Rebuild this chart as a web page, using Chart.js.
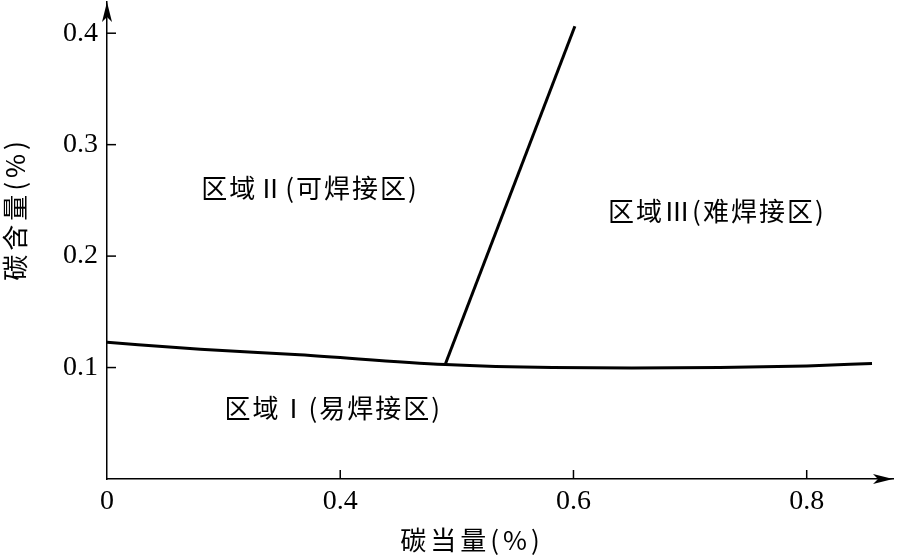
<!DOCTYPE html>
<html>
<head>
<meta charset="utf-8">
<script src="https://cdn.jsdelivr.net/npm/chart.js@4.4.1/dist/chart.umd.min.js"></script>
<style>
  html, body { margin: 0; padding: 0; background: #fff; }
  #wrap { width: 899px; height: 556px; position: relative; }
</style>
</head>
<body>
<div id="wrap"><canvas id="chart"></canvas></div>
<script>
// boundary between region I and region II/III (carbon equivalent, carbon content)
const lowerX = [0.2, 0.28, 0.365, 0.49, 0.582, 0.65, 0.7255, 0.80, 0.856];
const lowerY = [0.1226, 0.1165, 0.1115, 0.1027, 0.1000, 0.0997, 0.1000, 0.1015, 0.1036];
// boundary between region II and region III
const steepX = [0.49, 0.6012];
const steepY = [0.1027, 0.4063];

const xTicks = [0.2, 0.4, 0.6, 0.8];
const xTickLabels = ['0', '0.4', '0.6', '0.8'];
const yTicks = [0.1, 0.2, 0.3, 0.4];
const yTickLabels = ['0.1', '0.2', '0.3', '0.4'];

const regionNames = ['区域Ⅱ(可焊接区)', '区域Ⅲ(难焊接区)', '区域Ⅰ(易焊接区)'];
const regionX = [0.374, 0.723, 0.394];
const regionY = [0.2608, 0.240, 0.0639];

const xTitle = '碳当量(%)';
const yTitle = '碳含量(%)';

const cjkFont = '"Noto Sans CJK SC", "Noto Sans CJK JP", sans-serif';
const numFont = '"Liberation Serif", "DejaVu Serif", serif';

function toPoints(xs, ys) {
    return xs.map((x, i) => ({ x: x, y: ys[i] }));
}

const decorPlugin = {
    id: 'decor',
    afterDraw(chart) {
        const ctx = chart.ctx;
        const area = chart.chartArea;
        const xs = chart.scales.x;
        const ys = chart.scales.y;
        ctx.save();
        ctx.strokeStyle = '#000';
        ctx.fillStyle = '#000';
        ctx.lineWidth = 1.5;
        // inward tick marks
        xTicks.forEach(v => {
            const px = xs.getPixelForValue(v);
            if (v === xTicks[0]) return;
            ctx.beginPath();
            ctx.moveTo(px, area.bottom);
            ctx.lineTo(px, area.bottom - 9);
            ctx.stroke();
        });
        yTicks.forEach(v => {
            const py = ys.getPixelForValue(v);
            ctx.beginPath();
            ctx.moveTo(area.left, py);
            ctx.lineTo(area.left + 9, py);
            ctx.stroke();
        });
        // arrow heads
        ctx.beginPath();
        ctx.moveTo(area.left, area.top);
        ctx.lineTo(area.left - 5, area.top + 20);
        ctx.lineTo(area.left, area.top + 15);
        ctx.lineTo(area.left + 5, area.top + 20);
        ctx.closePath();
        ctx.fill();
        ctx.beginPath();
        ctx.moveTo(area.right, area.bottom);
        ctx.lineTo(area.right - 20, area.bottom - 5);
        ctx.lineTo(area.right - 15, area.bottom);
        ctx.lineTo(area.right - 20, area.bottom + 5);
        ctx.closePath();
        ctx.fill();
        // region labels
        ctx.font = '26px ' + cjkFont;
        ctx.letterSpacing = '2px';
        ctx.textAlign = 'center';
        ctx.textBaseline = 'middle';
        regionNames.forEach((name, i) => {
            ctx.fillText(name, xs.getPixelForValue(regionX[i]), ys.getPixelForValue(regionY[i]));
        });
        // axis titles
        ctx.font = '26px ' + cjkFont;
        ctx.letterSpacing = '4px';
        ctx.fillText(xTitle, 472, 540);
        ctx.translate(15, 209);
        ctx.rotate(-Math.PI / 2);
        ctx.fillText(yTitle, 0, 0);
        ctx.restore();
    }
};

const ctx = document.getElementById('chart').getContext('2d');
new Chart(ctx, {
    type: 'scatter',
    data: {
        datasets: [
            {
                data: toPoints(lowerX, lowerY),
                showLine: true,
                borderColor: '#000',
                borderWidth: 3,
                pointRadius: 0,
                cubicInterpolationMode: 'monotone',
                fill: false
            },
            {
                data: toPoints(steepX, steepY),
                showLine: true,
                borderColor: '#000',
                borderWidth: 3,
                pointRadius: 0,
                fill: false
            }
        ]
    },
    options: {
        responsive: true,
        maintainAspectRatio: false,
        animation: false,
        layout: { padding: { top: 2, right: 6, left: 0, bottom: 0 } },
        plugins: {
            legend: { display: false },
            tooltip: { enabled: false }
        },
        scales: {
            x: {
                type: 'linear',
                min: 0.2,
                max: 0.874,
                afterFit(scale) {
                    scale.height = 77;
                    scale.paddingLeft = 0;
                    scale.paddingRight = 0;
                },
                afterBuildTicks(scale) { scale.ticks = xTicks.map(v => ({ value: v })); },
                grid: { display: false, drawTicks: false },
                border: { display: true, color: '#000', width: 1.5 },
                ticks: {
                    padding: 6,
                    color: '#000',
                    font: { family: numFont, size: 28 },
                    callback: (v) => xTickLabels[xTicks.findIndex(t => Math.abs(t - v) < 1e-6)]
                }
            },
            y: {
                type: 'linear',
                min: 0,
                max: 0.428,
                afterFit(scale) {
                    scale.width = 107;
                    scale.paddingTop = 0;
                    scale.paddingBottom = 0;
                },
                afterBuildTicks(scale) { scale.ticks = yTicks.map(v => ({ value: v })); },
                grid: { display: false, drawTicks: false },
                border: { display: true, color: '#000', width: 1.5 },
                ticks: {
                    padding: 9,
                    color: '#000',
                    font: { family: numFont, size: 28 },
                    callback: (v) => yTickLabels[yTicks.findIndex(t => Math.abs(t - v) < 1e-6)]
                }
            }
        }
    },
    plugins: [decorPlugin]
});
</script>
</body>
</html>
